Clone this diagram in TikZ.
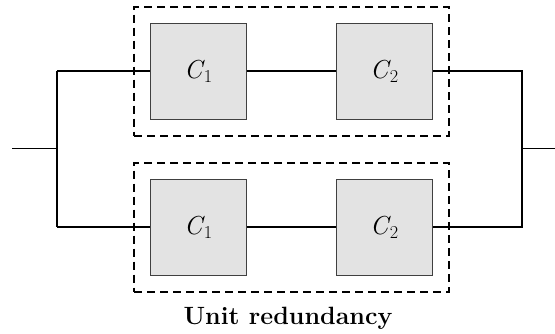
\documentclass[tikz,border=0pt]{standalone}
\usepackage{fontspec}
\usetikzlibrary{positioning,fit}
\colorlet{boxfill}{black!11}
\colorlet{boxline}{black!75}
\newcommand{\comp}[1]{\textit{C}\kern-1pt\textsubscript{#1}}

\begin{document}
\begin{tikzpicture}[x=1pt, y=-1pt,
    block/.style={draw=boxline, fill=boxfill, line width=1pt, minimum size=96pt, inner sep=0pt,
      font=\fontsize{26}{30}\selectfont},
    wire/.style={line width=1.2pt},
    group/.style={draw, line width=2pt, dash pattern=on 8pt off 5pt, inner sep=16pt},
    caption/.style={font=\fontsize{25}{30}\selectfont\bfseries}]

	\useasboundingbox (0,0) rectangle (555,333);

	% upper branch
	\node[block] (c1a) at (198.5,71) {\comp{1}};
	\node[block, right=89pt of c1a] (c2a) {\comp{2}};
	% lower branch
	\node[block, below=59pt of c1a] (c1b) {\comp{1}};
	\node[block, right=89pt of c1b] (c2b) {\comp{2}};

	% redundancy groups
	\node[group, fit=(c1a)(c2a)] (grpa) {};
	\node[group, fit=(c1b)(c2b)] (grpb) {};
	\node[caption, anchor=base] (label) at (288,324) {Unit redundancy};

	% wiring
	\coordinate (in) at (12,148.5);
	\coordinate (jl) at (57,148.5);
	\coordinate (jr) at (522,148.5);
	\coordinate (out) at (555,148.5);
	\draw[wire] (in) -- (jl);
	\draw[wire] (jl |- c1a) -- (jl |- c1b);
	\draw[wire] (jl |- c1a) -- (c1a.west);
	\draw[wire] (jl |- c1b) -- (c1b.west);
	\draw[wire] (c1a) -- (c2a);
	\draw[wire] (c1b) -- (c2b);
	\draw[wire] (c2a.east) -- (jr |- c2a) -- (jr |- c2b) -- (c2b.east);
	\draw[wire] (jr) -- (out);

\end{tikzpicture}
\end{document}
